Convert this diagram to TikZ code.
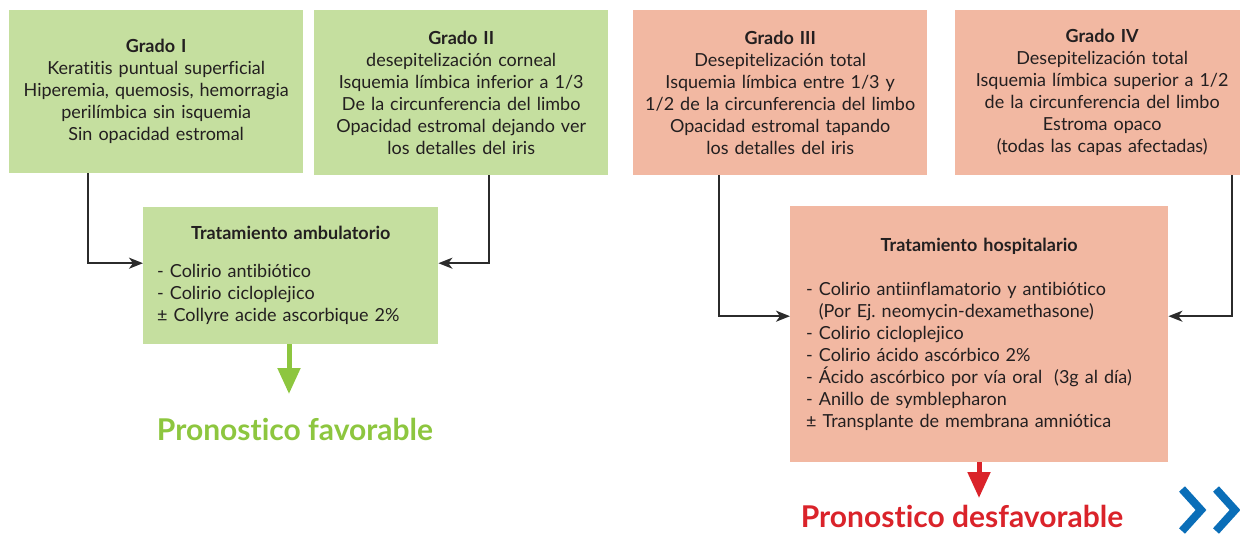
\documentclass[tikz,border=0pt]{standalone}
\usepackage{fontspec}
\setmainfont{Lato}[Ligatures={NoCommon,NoDiscretionary}]
\usetikzlibrary{arrows.meta}
\definecolor{gfill}{HTML}{C5DF9F}
\definecolor{sfill}{HTML}{F2B8A2}
\definecolor{favgreen}{HTML}{8DC63F}
\definecolor{redc}{HTML}{DA232A}
\definecolor{chevblue}{HTML}{0A6EB8}
\definecolor{txt}{HTML}{231F20}
\definecolor{conncol}{HTML}{2B2B2B}
\newcommand{\bodyfont}{\fontsize{18}{22}\selectfont}
\newcommand{\bigfont}{\fontsize{30}{34}\selectfont\bfseries}
\frenchspacing
\begin{document}
\begin{tikzpicture}[x=1pt,y=-1pt,
  grade/.style={anchor=north west, text width=286, inner xsep=4, inner ysep=0, align=center, font=\bodyfont, text=txt},
  treat/.style={anchor=north west, inner ysep=0, align=left, font=\bodyfont, text=txt},
  conn/.style={draw=conncol, line width=1.8pt, -{Stealth[length=14pt,width=11pt,inset=4pt]}},
  bigarrow/.style={line width=5pt, -{Triangle[length=26pt,width=22pt]}},
  chev/.style={draw=chevblue, line width=8pt, miter limit=10}
]
\useasboundingbox (0,0) rectangle (1240,535);

\node[grade, fill=gfill, minimum height=163] (g1) at (9,10)
  {\textbf{Grado I}\\Keratitis puntual superficial\\Hiperemia, quemosis, hemorragia\\perilímbica sin isquemia\\Sin opacidad estromal};
\node[grade, fill=gfill, minimum height=165] (g2) at (314,10)
  {\textbf{Grado II}\\desepitelización corneal\\Isquemia límbica inferior a 1/3\\De la circunferencia del limbo\\Opacidad estromal dejando ver\\los detalles del iris};
\node[grade, fill=sfill, minimum height=165] (g3) at (633,10)
  {\textbf{Grado III}\\Desepitelización total\\Isquemia límbica entre 1/3 y\\1/2 de la circunferencia del limbo\\Opacidad estromal tapando\\los detalles del iris};
\node[grade, fill=sfill, minimum height=165] (g4) at (955,10)
  {\textbf{Grado IV}\\Desepitelización total\\Isquemia límbica superior a 1/2\\de la circunferencia del limbo\\Estroma opaco\\(todas las capas afectadas)};

\node[treat, fill=gfill, text width=267, inner xsep=14, minimum height=137] (amb) at (143,207)
  {\makebox[\linewidth][c]{\textbf{Tratamiento ambulatorio}}\\[16pt]
   - Colirio antibiótico\\
   - Colirio cicloplejico\\
   ± Collyre acide ascorbique 2\%};

\node[treat, fill=sfill, text width=346, inner xsep=16, minimum height=256] (hosp) at (790,206)
  {\makebox[\linewidth][c]{\textbf{Tratamiento hospitalario}}\\[22pt]
   - Colirio antiinflamatorio y antibiótico\\
   \phantom{- }(Por Ej. neomycin-dexamethasone)\\
   - Colirio cicloplejico\\
   - Colirio ácido ascórbico 2\%\\
   - Ácido ascórbico por vía oral\ \ (3g al día)\\
   - Anillo de symblepharon\\
   ± Transplante de membrana amniótica};

\coordinate (x1) at (88,0);
\coordinate (x2) at (489,0);
\coordinate (x3) at (719,0);
\coordinate (x4) at (1232,0);
\draw[conn] (g1.south -| x1) |- ([yshift=12.5pt]amb.west);
\draw[conn] (g2.south -| x2) |- ([yshift=12.5pt]amb.east);
\draw[conn] (g3.south -| x3) |- ([yshift=18pt]hosp.west);
\draw[conn] (g4.south -| x4) |- ([yshift=18pt]hosp.east);

\coordinate (favtip) at (289,394);
\coordinate (desftip) at (979,498);
\draw[bigarrow, draw=favgreen, fill=favgreen] (amb.south -| favtip) -- (favtip);
\draw[bigarrow, draw=redc, fill=redc] (hosp.south -| desftip) -- (desftip);

\node[anchor=base, font=\bigfont, text=favgreen, inner sep=0] (fav) at (295,440) {Pronostico favorable};
\node[anchor=base, font=\bigfont, text=redc, inner sep=0] (desf) at (962,527) {Pronostico desfavorable};

\draw[chev] (1182,489) -- (1201,510) -- (1182,531);
\draw[chev] (1216,489) -- (1235,510) -- (1216,531);
\end{tikzpicture}
\end{document}
